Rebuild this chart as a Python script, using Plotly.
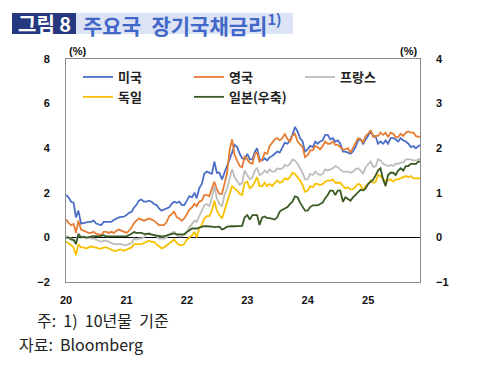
import plotly.graph_objects as go

# ---------------- data (semi-monthly readings, %) ----------------
years = [2020, 2021, 2022, 2023, 2024, 2025]
last_month_2025 = 11
tick_dates = ["2020-01-01", "2021-01-01", "2022-01-01", "2023-01-01", "2024-01-01", "2025-01-01"]
tick_labels = ["20", "21", "22", "23", "24", "25"]
series_names = ["미국", "영국", "프랑스", "독일", "일본(우축)"]

us = [1.90,1.80, 1.60,1.55, 0.90,1.20, 0.62,0.65, 0.65,0.70, 0.70,0.75, 0.62,0.58, 0.55,0.70, 0.70,0.68, 0.70,0.78, 0.85,0.90, 0.92,0.93,
      1.00,1.10, 1.15,1.35, 1.45,1.65, 1.70,1.60, 1.60,1.65, 1.60,1.50, 1.45,1.30, 1.20,1.25, 1.30,1.35, 1.50,1.60, 1.55,1.60, 1.45,1.45,
      1.65,1.85, 1.80,2.00, 1.75,2.20, 2.40,2.85, 2.95,2.90, 2.85,3.40, 2.90,2.90, 2.60,2.90, 3.20,3.50, 3.80,4.15, 4.05,3.75, 3.55,3.50,
      3.75,3.50, 3.50,3.85, 4.00,3.50, 3.45,3.55, 3.45,3.60, 3.65,3.75, 3.85,3.80, 4.00,4.25, 4.20,4.35, 4.60,4.95, 4.75,4.45, 4.30,3.85,
      3.95,4.10, 4.05,4.30, 4.20,4.30, 4.35,4.60, 4.60,4.40, 4.45,4.30, 4.35,4.20, 3.85,3.85, 3.80,3.75, 3.85,4.05, 4.35,4.40, 4.20,4.40,
      4.60,4.75, 4.55,4.50, 4.20,4.30, 4.20,4.35, 4.20,4.45, 4.45,4.40, 4.30,4.45, 4.35,4.30, 4.20,4.05, 4.10,4.00, 4.10,4.15]

uk = [0.80,0.65, 0.55,0.60, 0.20,0.75, 0.35,0.30, 0.25,0.20, 0.20,0.25, 0.17,0.12, 0.10,0.25, 0.25,0.20, 0.25,0.20, 0.30,0.35, 0.30,0.25,
      0.20,0.30, 0.45,0.65, 0.75,0.85, 0.80,0.75, 0.80,0.85, 0.80,0.75, 0.65,0.55, 0.55,0.55, 0.70,0.95, 1.05,1.15, 0.90,0.85, 0.75,0.85,
      1.05,1.25, 1.35,1.50, 1.40,1.60, 1.65,1.90, 1.90,1.85, 2.20,2.50, 2.15,1.95, 1.95,2.40, 2.90,3.90, 4.40,3.70, 3.40,3.20, 3.15,3.65,
      3.50,3.35, 3.30,3.75, 3.80,3.40, 3.50,3.80, 3.75,4.10, 4.25,4.40, 4.45,4.35, 4.45,4.65, 4.40,4.30, 4.55,4.65, 4.30,4.15, 4.05,3.60,
      3.70,3.90, 3.90,4.10, 4.05,3.95, 4.10,4.30, 4.20,4.20, 4.30,4.15, 4.15,4.05, 3.95,3.95, 4.00,3.80, 4.00,4.20, 4.45,4.40, 4.25,4.55,
      4.65,4.80, 4.50,4.55, 4.55,4.70, 4.60,4.70, 4.50,4.70, 4.65,4.50, 4.50,4.65, 4.55,4.70, 4.75,4.70, 4.70,4.55, 4.50,4.55]

fr = [0.05,0.00, -0.05,-0.15, -0.25,0.20, 0.00,0.05, -0.05,0.00, -0.05,-0.05, -0.10,-0.15, -0.20,-0.15, -0.15,-0.20, -0.25,-0.30, -0.30,-0.30, -0.30,-0.35,
      -0.35,-0.30, -0.25,-0.05, -0.10,-0.05, -0.05,0.00, 0.15,0.20, 0.15,0.10, 0.05,-0.05, -0.05,-0.05, 0.00,0.15, 0.20,0.25, 0.10,0.05, 0.05,0.15,
      0.25,0.45, 0.60,0.75, 0.70,0.95, 1.20,1.45, 1.50,1.40, 1.80,2.30, 1.75,1.50, 1.40,1.90, 2.20,2.70, 3.05,2.70, 2.50,2.35, 2.45,3.00,
      2.80,2.60, 2.70,3.00, 3.10,2.80, 2.85,3.00, 2.90,3.05, 2.95,2.95, 3.10,3.05, 3.10,3.25, 3.20,3.30, 3.50,3.45, 3.30,3.10, 2.90,2.60,
      2.60,2.85, 2.80,2.95, 2.85,2.80, 2.85,3.05, 3.00,3.05, 3.10,3.20, 3.15,3.05, 2.95,2.95, 2.95,2.90, 2.95,3.05, 3.10,3.00, 2.85,3.15,
      3.30,3.40, 3.15,3.20, 3.50,3.45, 3.30,3.25, 3.20,3.25, 3.20,3.30, 3.30,3.35, 3.35,3.50, 3.50,3.50, 3.45,3.45, 3.50,3.55]

de = [-0.20,-0.25, -0.35,-0.45, -0.80,-0.30, -0.45,-0.45, -0.50,-0.45, -0.40,-0.45, -0.45,-0.50, -0.50,-0.45, -0.45,-0.50, -0.55,-0.60, -0.60,-0.55, -0.55,-0.60,
      -0.55,-0.50, -0.45,-0.30, -0.30,-0.30, -0.30,-0.25, -0.20,-0.15, -0.20,-0.20, -0.30,-0.40, -0.50,-0.45, -0.35,-0.25, -0.20,-0.10, -0.25,-0.35, -0.35,-0.30,
      -0.10,0.00, 0.10,0.25, 0.00,0.40, 0.55,0.85, 0.95,0.95, 1.20,1.65, 1.20,1.00, 0.85,1.20, 1.60,2.00, 2.30,2.20, 2.10,1.95, 1.90,2.45,
      2.50,2.20, 2.30,2.50, 2.70,2.30, 2.30,2.45, 2.30,2.40, 2.30,2.45, 2.55,2.45, 2.50,2.65, 2.60,2.70, 2.90,2.85, 2.70,2.55, 2.35,2.05,
      2.10,2.30, 2.25,2.40, 2.40,2.35, 2.40,2.50, 2.55,2.55, 2.60,2.45, 2.45,2.45, 2.30,2.20, 2.25,2.15, 2.15,2.25, 2.40,2.35, 2.10,2.30,
      2.40,2.55, 2.45,2.50, 2.80,2.75, 2.60,2.50, 2.55,2.60, 2.50,2.60, 2.60,2.65, 2.70,2.75, 2.70,2.75, 2.65,2.65, 2.65,2.65]

jp = [-0.01,0.00, -0.05,-0.05, -0.15,0.07, 0.00,0.01, 0.00,0.00, 0.02,0.03, 0.03,0.02, 0.03,0.05, 0.02,0.02, 0.03,0.03, 0.03,0.02, 0.02,0.02,
      0.03,0.05, 0.08,0.12, 0.10,0.10, 0.10,0.08, 0.08,0.08, 0.06,0.05, 0.03,0.02, 0.02,0.03, 0.05,0.06, 0.08,0.09, 0.07,0.07, 0.06,0.07,
      0.12,0.15, 0.20,0.20, 0.20,0.22, 0.24,0.25, 0.25,0.25, 0.24,0.23, 0.23,0.24, 0.18,0.20, 0.24,0.25, 0.25,0.25, 0.25,0.25, 0.26,0.45,
      0.50,0.40, 0.50,0.50, 0.50,0.28, 0.45,0.47, 0.43,0.43, 0.42,0.40, 0.45,0.58, 0.62,0.65, 0.68,0.75, 0.80,0.92, 0.90,0.78, 0.70,0.60,
      0.60,0.68, 0.72,0.72, 0.72,0.75, 0.78,0.88, 0.95,1.05, 1.05,0.95, 1.05,1.05, 0.80,0.90, 0.85,0.82, 0.90,0.95, 1.00,1.07, 1.05,1.10,
      1.20,1.25, 1.30,1.40, 1.50,1.55, 1.30,1.15, 1.40,1.45, 1.45,1.40, 1.50,1.55, 1.50,1.60, 1.60,1.65, 1.65,1.65, 1.70,1.70]

# observation dates: 1st and 16th of each month
dates = []
for yr in years:
    for m in range(1, 13):
        if yr == 2025 and m > last_month_2025:
            break
        dates.append(f"{yr}-{m:02d}-01")
        dates.append(f"{yr}-{m:02d}-16")

colors = ["#4B6FC6", "#E57E34", "#BDBDBD", "#F7C100", "#3A5A24"]

# ---------------- layout geometry (page pixels; page body has an 8px margin) ----------------
OFF = 8
W, H = 484 - OFF, 368 - OFF
L, T = 66 - OFF, 59 - OFF
R = W - (420 - OFF)
B = H - (282 - OFF)
PW, PH = W - L - R, H - T - B


def px(x):
    return (x - OFF - L) / PW


def py(y):
    return (H - B - (y - OFF)) / PH


fig = go.Figure()
for name, vals, col in zip(series_names[:4], [us, uk, fr, de], colors[:4]):
    fig.add_trace(go.Scatter(x=dates, y=vals, name=name, mode="lines",
                             line=dict(color=col, width=1.8)))
fig.add_trace(go.Scatter(x=dates, y=jp, name=series_names[4], mode="lines",
                         line=dict(color=colors[4], width=1.8), yaxis="y2"))

tickfont = dict(family="Liberation Sans, Arial", size=11, color="#111", weight="bold")

fig.update_layout(
    width=W, height=H,
    margin=dict(l=L, r=R, t=T, b=B, autoexpand=False),
    paper_bgcolor="white", plot_bgcolor="white",
    showlegend=True,
    legend=dict(orientation="h", x=px(78), y=py(62), xanchor="left", yanchor="top",
                entrywidth=66, entrywidthmode="pixels", bgcolor="rgba(0,0,0,0)",
                font=dict(family="Noto Sans CJK KR", size=13, color="#222", weight="bold"),
                tracegroupgap=0, itemwidth=30),
    xaxis=dict(type="date", range=["2020-01-01", "2025-11-10"],
               tickvals=tick_dates, ticktext=tick_labels, ticks="",
               showgrid=False, zeroline=False, showline=True, linecolor="#8C8C8C",
               linewidth=1, mirror=True, tickfont=tickfont, ticklabelstandoff=8),
    yaxis=dict(range=[-2, 8], tickvals=[-2, 0, 2, 4, 6, 8], ticks="",
               showgrid=False, zeroline=True, zerolinecolor="#000", zerolinewidth=1,
               showline=True, linecolor="#8C8C8C", linewidth=1, mirror=True,
               tickfont=tickfont, ticklabelstandoff=13),
    yaxis2=dict(range=[-1, 4], tickvals=[-1, 0, 1, 2, 3, 4], overlaying="y", side="right",
                ticks="", showgrid=False, zeroline=False, showline=False,
                tickfont=tickfont, ticklabelstandoff=15),
)

shapes = [
    dict(type="rect", xref="paper", yref="paper", x0=px(0), x1=px(484), y0=py(6), y1=py(4),
         fillcolor="#2F4C9A", line=dict(width=0), layer="above"),
    dict(type="rect", xref="paper", yref="paper", x0=px(12), x1=px(76), y0=py(34), y1=py(13),
         fillcolor="#26397F", line=dict(width=0), layer="above"),
    dict(type="rect", xref="paper", yref="paper", x0=px(76), x1=px(293), y0=py(34), y1=py(13),
         fillcolor="#DCE3F4", line=dict(width=0), layer="above"),
]
fig.update_layout(shapes=shapes)

pct_font = dict(family="Liberation Sans, Arial", size=11, color="#111", weight="bold")
note_font = dict(family="Noto Sans CJK KR", size=16, color="#222")
ann = [
    dict(text="그림 8", x=px(44), y=py(23.5), xanchor="center", yanchor="middle",
         font=dict(family="Noto Sans CJK KR", size=20, color="white", weight="bold")),
    dict(text="주요국\u2002장기국채금리<sup>1)</sup>", x=px(81), y=py(23.5), xanchor="left", yanchor="middle",
         font=dict(family="Noto Sans CJK KR", size=21, color="#4168C8", weight="bold")),
    dict(text="(%)", x=px(67), y=py(51), xanchor="left", yanchor="middle", font=pct_font),
    dict(text="(%)", x=px(419), y=py(51), xanchor="right", yanchor="middle", font=pct_font),
    dict(text="주:  1)  10년물  기준", x=px(35), y=py(320), xanchor="left", yanchor="middle",
         font=note_font),
    dict(text="자료:  Bloomberg", x=px(17), y=py(343.5), xanchor="left", yanchor="middle",
         font=note_font),
]
for a in ann:
    a.update(xref="paper", yref="paper", showarrow=False)
fig.update_layout(annotations=ann)

fig.write_html("out.html")
